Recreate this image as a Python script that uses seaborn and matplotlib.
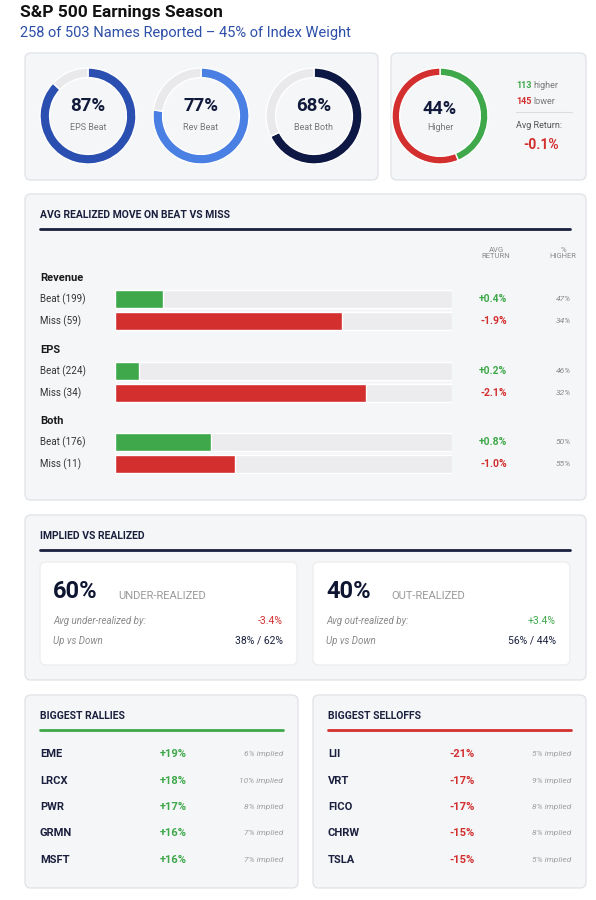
import matplotlib
matplotlib.use("Agg")
import matplotlib.pyplot as plt
import seaborn as sns
import pandas as pd
from matplotlib.patches import FancyBboxPatch

# Datos

donut_labels = ["EPS Beat", "Rev Beat", "Beat Both"]
donut_pcts = [87, 77, 68]
donut_colors = ["#2a4fb0", "#4a80e3", "#0e1844"]

n_higher = 113
n_lower = 145
avg_return = -0.1

groups = ["Revenue", "EPS", "Both"]
beat_counts = [199, 224, 176]
miss_counts = [59, 34, 11]
beat_ret = [0.4, 0.2, 0.8]
miss_ret = [-1.9, -2.1, -1.0]
beat_higher = [47, 46, 50]
miss_higher = [34, 32, 55]

under_pct = 60
out_pct = 40
under_by = -3.4
out_by = 3.4
under_updown = "38% / 62%"
out_updown = "56% / 44%"

rally_tickers = ["EME", "LRCX", "PWR", "GRMN", "MSFT"]
rally_moves = [19, 18, 17, 16, 16]
rally_implied = [6, 10, 8, 7, 7]

selloff_tickers = ["LII", "VRT", "FICO", "CHRW", "TSLA"]
selloff_moves = [-21, -17, -17, -15, -15]
selloff_implied = [5, 9, 8, 8, 5]

GREEN = "#3ea84a"
RED = "#d32f2f"
NAVY = "#1a1f3d"
GREY = "#8a8a8a"

sns.set_style("white")
plt.rcParams["font.family"] = ["Roboto", "DejaVu Sans"]

W, H = 596, 900
fig = plt.figure(figsize=(W / 100, H / 100), dpi=100)
base = fig.add_axes([0, 0, 1, 1])
base.set_xlim(0, W)
base.set_ylim(H, 0)
base.axis("off")


def px_axes(x, y, w, h):
    return fig.add_axes([x / W, 1 - (y + h) / H, w / W, h / H])


def panel(x, y, w, h, fc="#f5f6f8", ec="#e2e4e8"):
    base.add_patch(FancyBboxPatch((x, y), w, h,
                                  boxstyle="round,pad=0,rounding_size=6",
                                  fc=fc, ec=ec, lw=1))


def header(x, y, text, x2, color=NAVY):
    base.text(x, y, text, fontsize=7.5, fontweight="bold", color=NAVY, va="center")
    base.plot([x, x2], [y + 14, y + 14], color=color, lw=2)


def donut_axes(cx, cy, r):
    ax = px_axes(cx - r, cy - r, 2 * r, 2 * r)
    return ax


def finish_donut(ax):
    ax.set_xlim(-1.0, 1.0)
    ax.set_ylim(-1.0, 1.0)
    ax.set_aspect("equal")


# Titulo
base.text(20, 12, "S&P 500 Earnings Season", fontsize=12.5, fontweight="bold",
          color="#111111", va="center")
base.text(20, 33, "258 of 503 Names Reported \u2013 45% of Index Weight",
          fontsize=10.5, color="#2d4fa8", va="center")

# Donuts
panel(25, 53, 353, 127)
panel(391, 53, 195, 127)

centers = [88, 201, 314]
for cx, pct, lab, col in zip(centers, donut_pcts, donut_labels, donut_colors):
    ax = donut_axes(cx, 116, 48)
    ax.pie([pct, 100 - pct], colors=[col, "#e9e9ec"], startangle=90,
           counterclock=False, wedgeprops=dict(width=0.2))
    finish_donut(ax)
    base.text(cx, 106, f"{pct}%", fontsize=13.5, fontweight="bold",
              color="#111a3a", ha="center", va="center")
    base.text(cx, 127, lab, fontsize=6.5, color="#777777", ha="center", va="center")

total = n_higher + n_lower
ax = donut_axes(440, 116, 48)
ax.pie([n_higher, n_lower], colors=[GREEN, RED], startangle=90,
       counterclock=False, wedgeprops=dict(width=0.16))
finish_donut(ax)
base.text(440, 109, f"{round(100 * n_higher / total)}%", fontsize=13,
          fontweight="bold", color="#111a3a", ha="center", va="center")
base.text(440, 128, "Higher", fontsize=6.5, color="#777777", ha="center", va="center")
base.text(516, 85, f"{n_higher}", fontsize=6.5, color=GREEN, fontweight="bold", va="center")
base.text(533, 85, "higher", fontsize=6.5, color="#777777", va="center")
base.text(516, 101, f"{n_lower}", fontsize=6.5, color=RED, fontweight="bold", va="center")
base.text(533, 101, "lower", fontsize=6.5, color="#777777", va="center")
base.plot([516, 572], [112, 112], color="#dddddd", lw=0.8)
base.text(516, 126, "Avg Return:", fontsize=6.5, color="#555555", va="center")
base.text(541, 145, f"{avg_return:+.1f}%".replace("+-", "-"), fontsize=10,
          fontweight="bold", color=RED, ha="center", va="center")

# Beat vs miss
panel(25, 194, 561, 306)
header(40, 215, "AVG REALIZED MOVE ON BEAT VS MISS", 570)
base.text(496, 253, "AVG\nRETURN", fontsize=5.5, color=GREY, ha="center",
          va="center", linespacing=1.1)
base.text(563, 253, "%\nHIGHER", fontsize=5.5, color=GREY, ha="center",
          va="center", linespacing=1.1)

track_max = 2.82
first_rows = [299, 371, 442]
for g, y0, bc, mc, br, mr, bh, mh in zip(groups, first_rows, beat_counts, miss_counts,
                                          beat_ret, miss_ret, beat_higher, miss_higher):
    base.text(40, y0 - 21, g, fontsize=8, fontweight="bold", color="#1a1a1a", va="center")
    df = pd.DataFrame({"row": [f"Beat ({bc})", f"Miss ({mc})"],
                       "move": [abs(br), abs(mr)],
                       "track": [track_max, track_max]})
    ax = px_axes(115, y0 - 11, 337, 44)
    sns.barplot(data=df, y="row", x="track", color="#ececee", width=0.78, ax=ax,
                saturation=1)
    sns.barplot(data=df, y="row", x="move", hue="row", palette=[GREEN, RED],
                width=0.78, ax=ax, saturation=1, legend=False)
    ax.set_xlim(0, track_max)
    ax.axis("off")
    for k, (lab, ret, hi) in enumerate(zip(df["row"], [br, mr], [bh, mh])):
        y = y0 + 22 * k
        base.text(40, y, lab, fontsize=7, color="#333333", va="center")
        base.text(507, y, f"{ret:+.1f}%", fontsize=7.5, fontweight="bold",
                  color=GREEN if ret > 0 else RED, ha="right", va="center")
        base.text(571, y, f"{hi}%", fontsize=6, style="italic", color=GREY,
                  ha="right", va="center")

# Implied vs realized
panel(25, 515, 561, 165)
header(40, 536, "IMPLIED VS REALIZED", 570)
cards = [(40, under_pct, "UNDER-REALIZED", "Avg under-realized by:", under_by, under_updown),
         (313, out_pct, "OUT-REALIZED", "Avg out-realized by:", out_by, out_updown)]
for x, pct, name, lab, by, ud in cards:
    panel(x, 562, 257, 103, fc="white", ec="#eeeeee")
    base.text(x + 13, 591, f"{pct}%", fontsize=17, fontweight="bold",
              color="#0e1530", va="center")
    base.text(x + 78, 596, name, fontsize=8, color="#9a9a9a", va="center")
    base.text(x + 13, 621, lab, fontsize=7, style="italic", color=GREY, va="center")
    base.text(x + 243, 621, f"{by:+.1f}%", fontsize=7.5,
              color=GREEN if by > 0 else RED, ha="right", va="center")
    base.text(x + 13, 641, "Up vs Down", fontsize=7, style="italic", color=GREY, va="center")
    base.text(x + 243, 641, ud, fontsize=7.5, color="#1a1f3d", ha="right", va="center")

# Rallies / selloffs
lists = [(25, "BIGGEST RALLIES", GREEN, rally_tickers, rally_moves, rally_implied),
         (313, "BIGGEST SELLOFFS", RED, selloff_tickers, selloff_moves, selloff_implied)]
for x, title, col, tick, mv, imp in lists:
    w = 273
    panel(x, 695, w, 193)
    header(x + 15, 716, title, x + w - 15, color=col)
    for k, (t, m, i) in enumerate(zip(tick, mv, imp)):
        y = 754 + 26.5 * k
        base.text(x + 15, y, t, fontsize=8, fontweight="bold", color="#1a1f3d", va="center")
        base.text(x + 162, y, f"{m:+d}%", fontsize=8, fontweight="bold", color=col,
                  ha="right", va="center")
        base.text(x + 258, y, f"{i}% implied", fontsize=6, style="italic", color="#a0a0a0",
                  ha="right", va="center")

fig.savefig("out.png", dpi=100)
